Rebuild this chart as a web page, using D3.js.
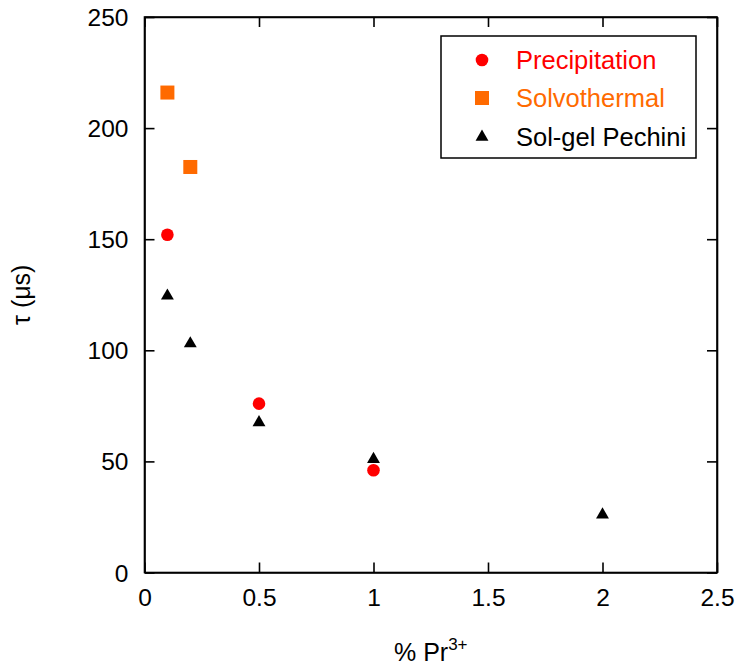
<!DOCTYPE html>
<html><head><meta charset="utf-8">
<script src="https://cdn.jsdelivr.net/npm/d3@7"></script>
<style>body{margin:0;background:#fff}svg{display:block}text{font-family:Arial,"Liberation Sans",sans-serif}</style>
</head><body>
<script>
const precipX = [0.1, 0.5, 1];
const precipY = [152, 76, 46];
const solvoX = [0.1, 0.2];
const solvoY = [216, 182.5];
const solgelX = [0.1, 0.2, 0.5, 1, 2];
const solgelY = [124.5, 103, 67.5, 51, 26];
const xTicks = [0, 0.5, 1, 1.5, 2, 2.5];
const yTicks = [0, 50, 100, 150, 200, 250];
const seriesNames = ["Precipitation", "Solvothermal", "Sol-gel Pechini"];
const seriesColors = ["#ff0000", "#ff6a00", "#000000"];

const W = 739, H = 670;
const L = 144.5, R = 717, T = 17, B = 572.5;
const svg = d3.select("body").append("svg").attr("width", W).attr("height", H);
const x = d3.scaleLinear().domain([0, 2.5]).range([L, R]);
const y = d3.scaleLinear().domain([0, 250]).range([B, T]);

const tickLen = 10;
const gB = svg.append("g").attr("transform", `translate(0,${B})`)
  .call(d3.axisBottom(x).tickValues(xTicks).tickFormat(d3.format("")).tickSizeInner(-tickLen).tickSizeOuter(0).tickPadding(16));
const gT = svg.append("g").attr("transform", `translate(0,${T})`)
  .call(d3.axisTop(x).tickValues(xTicks).tickFormat("").tickSizeInner(-tickLen).tickSizeOuter(0));
const gL = svg.append("g").attr("transform", `translate(${L},0)`)
  .call(d3.axisLeft(y).tickValues(yTicks).tickSizeInner(-tickLen).tickSizeOuter(0).tickPadding(16));
const gR = svg.append("g").attr("transform", `translate(${R},0)`)
  .call(d3.axisRight(y).tickValues(yTicks).tickFormat("").tickSizeInner(-tickLen).tickSizeOuter(0));
[gB, gT, gL, gR].forEach(g => {
  g.select(".domain").attr("stroke", "#000").attr("stroke-width", 1.6);
  g.selectAll(".tick line").attr("stroke", "#000").attr("stroke-width", 1.6);
  g.selectAll(".tick text").attr("font-size", 24.5).attr("fill", "#000").attr("font-family", "Arial, 'Liberation Sans', sans-serif");
});
gB.selectAll(".tick text").attr("dy", "0.71em");
gL.selectAll(".tick text").attr("dy", "0.35em");
svg.append("rect").attr("x", L).attr("y", T).attr("width", R - L).attr("height", B - T)
  .attr("fill", "none").attr("stroke", "#000").attr("stroke-width", 1.6);

const tri = d3.symbol().type(d3.symbolTriangle).size(72);
svg.append("g").selectAll("circle").data(precipX.map((d, i) => [d, precipY[i]])).join("circle")
  .attr("cx", d => x(d[0])).attr("cy", d => y(d[1])).attr("r", 6.3).attr("fill", seriesColors[0]);
svg.append("g").selectAll("rect").data(solvoX.map((d, i) => [d, solvoY[i]])).join("rect")
  .attr("x", d => x(d[0]) - 7).attr("y", d => y(d[1]) - 7).attr("width", 14).attr("height", 14).attr("fill", seriesColors[1]);
svg.append("g").selectAll("path").data(solgelX.map((d, i) => [d, solgelY[i]])).join("path")
  .attr("d", tri).attr("transform", d => `translate(${x(d[0])},${y(d[1])})`).attr("fill", seriesColors[2]);

const lg = svg.append("g");
lg.append("rect").attr("x", 441).attr("y", 36).attr("width", 255).attr("height", 122)
  .attr("fill", "#fff").attr("stroke", "#000").attr("stroke-width", 1.5);
const rowsY = [60, 98, 137];
seriesNames.forEach((n, i) => {
  const cy = rowsY[i];
  if (i === 0) lg.append("circle").attr("cx", 482).attr("cy", cy).attr("r", 6.3).attr("fill", seriesColors[0]);
  if (i === 1) lg.append("rect").attr("x", 475).attr("y", cy - 7).attr("width", 14).attr("height", 14).attr("fill", seriesColors[1]);
  if (i === 2) lg.append("path").attr("d", tri).attr("transform", `translate(482,${cy})`).attr("fill", seriesColors[2]);
  lg.append("text").attr("x", 516).attr("y", cy).attr("dy", "0.35em").attr("font-size", 25.5)
    .attr("fill", seriesColors[i]).text(n);
});

const xt = svg.append("text").attr("x", (L + R) / 2).attr("y", 661).attr("text-anchor", "middle").attr("font-size", 25);
xt.append("tspan").text("% Pr");
xt.append("tspan").attr("font-size", 17).attr("dy", -11).text("3+");
svg.append("text").attr("transform", `translate(30,${(T + B) / 2}) rotate(-90)`).attr("text-anchor", "middle")
  .attr("font-size", 25).text("τ (μs)");
</script>
</body></html>
